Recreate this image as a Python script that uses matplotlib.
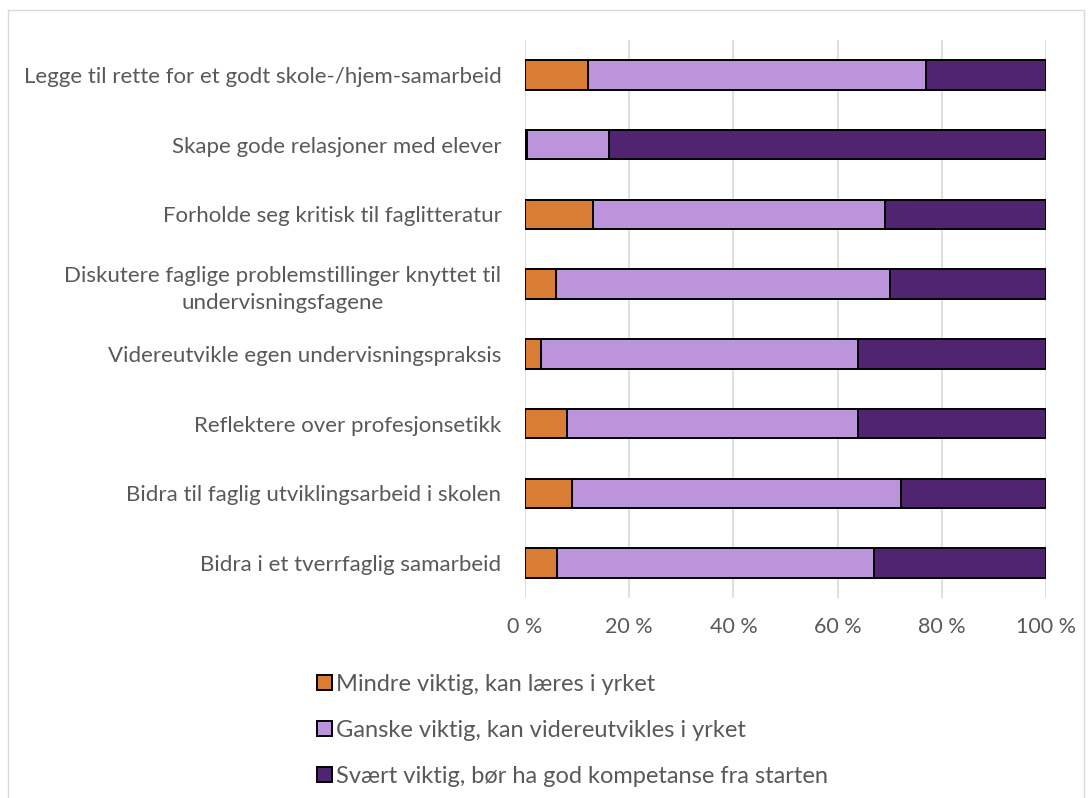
import numpy as np
import matplotlib.pyplot as plt
from matplotlib.patches import Rectangle

# Kategorier (ovenfra og ned) og andeler i prosent
kategorier = ['Legge til rette for et godt skole-/hjem-samarbeid',
              'Skape gode relasjoner med elever',
              'Forholde seg kritisk til faglitteratur',
              'Diskutere faglige problemstillinger knyttet til\nundervisningsfagene',
              'Videreutvikle egen undervisningspraksis',
              'Reflektere over profesjonsetikk',
              'Bidra til faglig utviklingsarbeid i skolen',
              'Bidra i et tverrfaglig samarbeid']
mindre = [12.0, 0.4, 13.0, 6.0, 3.0, 8.0, 9.0, 6.2]
ganske = [65.0, 15.8, 56.0, 64.0, 61.0, 56.0, 63.2, 60.8]
svaert = [23.0, 83.8, 31.0, 30.0, 36.0, 36.0, 27.8, 33.0]
serier = ['Mindre viktig, kan læres i yrket',
          'Ganske viktig, kan videreutvikles i yrket',
          'Svært viktig, bør ha god kompetanse fra starten']
farger = ['#D97D35', '#BC94DC', '#512472']
xticks = [0, 20, 40, 60, 80, 100]

plt.rcParams['font.family'] = ['Lato', 'DejaVu Sans']
tekst = '#595959'

fig = plt.figure(figsize=(10.92, 7.98), dpi=100)
fig.patches.append(Rectangle((0.007, -0.01), 0.986, 0.997, transform=fig.transFigure,
                             fill=False, edgecolor='#D9D9D9', linewidth=1))
ax = fig.add_axes([0.4808, 0.2506, 0.4771, 0.6993])

y = np.arange(len(kategorier))
venstre = np.zeros(len(kategorier))
for verdier, navn, farge in zip([mindre, ganske, svaert], serier, farger):
    ax.barh(y, verdier, left=venstre, height=0.42, color=farge,
            edgecolor='black', linewidth=1.4, label=navn, zorder=3)
    venstre += np.array(verdier)

ax.set_ylim(len(kategorier) - 0.5, -0.5)
ax.set_xlim(0, 100)
ax.set_xticks(xticks)
ax.set_xticklabels([f'{v} %' for v in xticks])
ax.set_yticks(y)
ax.set_yticklabels(kategorier, multialignment='center', linespacing=1.4)
ax.tick_params(axis='y', length=0, pad=17, labelsize=16, labelcolor=tekst)
ax.tick_params(axis='x', length=0, pad=14, labelsize=15.5, labelcolor=tekst)
ax.grid(axis='x', color='#D9D9D9', linewidth=1.2, zorder=0)
for s in ax.spines.values():
    s.set_visible(False)

handles, labels = ax.get_legend_handles_labels()
fig.legend(handles, labels, loc='upper left', bbox_to_anchor=(0.282, 0.167),
           ncol=1, frameon=False, fontsize=17, labelcolor=tekst,
           handlelength=0.6, handleheight=0.6, handletextpad=0.2,
           labelspacing=1.05, borderaxespad=0)

fig.savefig('out.png', dpi=100)
